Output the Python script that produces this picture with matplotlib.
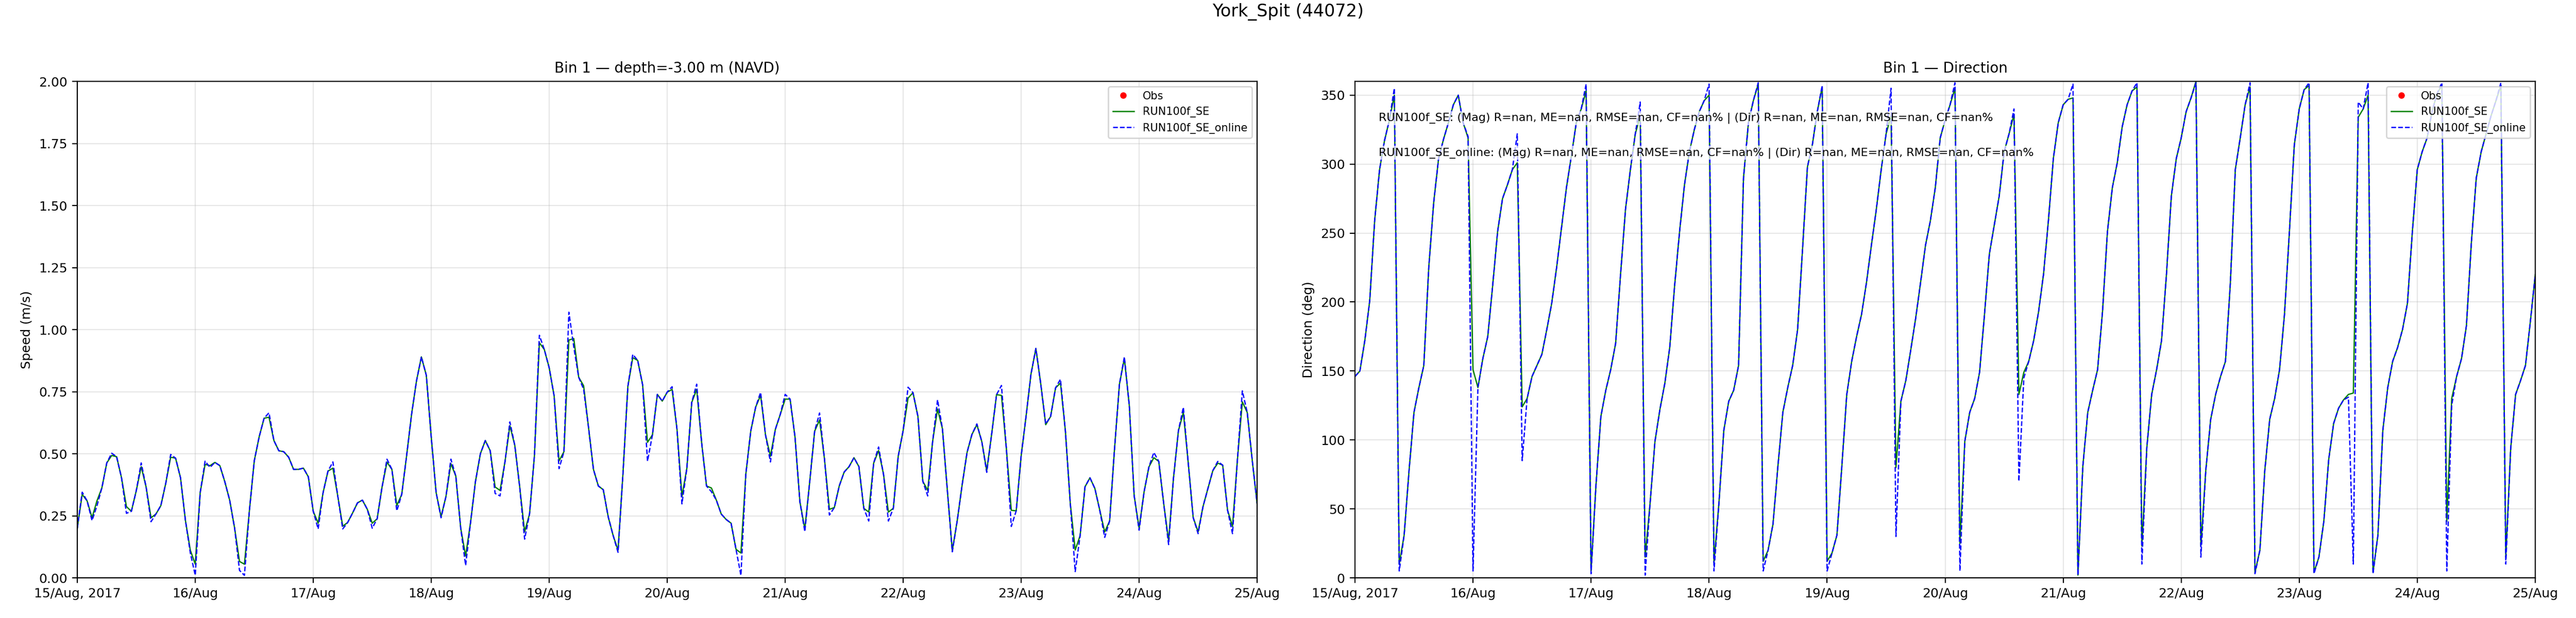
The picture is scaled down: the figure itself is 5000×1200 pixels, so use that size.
import numpy as np
import pandas as pd
import matplotlib
matplotlib.use('Agg')
import matplotlib.pyplot as plt
import matplotlib.dates as mdates

plt.rcParams['font.size'] = 9

# hourly time axis, 15/Aug 00:00 -> 25/Aug 00:00
times = pd.date_range('2017-08-15 00:00', '2017-08-25 00:00', freq='h')
day_ticks = pd.date_range('2017-08-15', '2017-08-25', freq='D')
day_labels = ['15/Aug, 2017', '16/Aug', '17/Aug', '18/Aug', '19/Aug', '20/Aug',
              '21/Aug', '22/Aug', '23/Aug', '24/Aug', '25/Aug']

# speed (m/s), RUN100f_SE
spd_se = [0.20, 0.336, 0.31, 0.242, 0.31, 0.362, 0.463, 0.493, 0.488, 0.403,
          0.287, 0.268, 0.351, 0.448, 0.366, 0.242, 0.257, 0.291, 0.381, 0.486,
          0.482, 0.403, 0.231, 0.111, 0.055, 0.343, 0.457, 0.452, 0.465, 0.452,
          0.388, 0.313, 0.201, 0.066, 0.055, 0.268, 0.471, 0.568, 0.643, 0.647,
          0.553, 0.512, 0.508, 0.486, 0.437, 0.437, 0.442, 0.407, 0.268, 0.22,
          0.343, 0.43, 0.442, 0.328, 0.208, 0.223, 0.261, 0.302, 0.313, 0.276,
          0.22, 0.238, 0.366, 0.466, 0.437, 0.291, 0.336, 0.493, 0.658, 0.793,
          0.89, 0.816, 0.568, 0.343, 0.246, 0.328, 0.46, 0.41, 0.20, 0.088,
          0.223, 0.388, 0.50, 0.553, 0.512, 0.366, 0.352, 0.467, 0.613, 0.534,
          0.366, 0.186, 0.257, 0.493, 0.947, 0.92, 0.846, 0.733, 0.471, 0.508,
          0.958, 0.964, 0.808, 0.774, 0.606, 0.437, 0.37, 0.355, 0.246, 0.171,
          0.111, 0.418, 0.771, 0.887, 0.876, 0.778, 0.546, 0.576, 0.739, 0.712,
          0.748, 0.759, 0.598, 0.328, 0.441, 0.707, 0.759, 0.546, 0.37, 0.362,
          0.313, 0.257, 0.235, 0.22, 0.115, 0.10, 0.418, 0.591, 0.688, 0.735,
          0.576, 0.49, 0.598, 0.658, 0.72, 0.72, 0.568, 0.306, 0.197, 0.388,
          0.591, 0.636, 0.478, 0.276, 0.283, 0.37, 0.426, 0.448, 0.484, 0.448,
          0.28, 0.265, 0.462, 0.513, 0.418, 0.265, 0.28, 0.49, 0.593, 0.724,
          0.746, 0.651, 0.389, 0.352, 0.55, 0.68, 0.60, 0.35, 0.11, 0.23,
          0.374, 0.505, 0.578, 0.617, 0.549, 0.432, 0.578, 0.738, 0.735, 0.52,
          0.272, 0.27, 0.49, 0.65, 0.82, 0.924, 0.78, 0.617, 0.65, 0.765,
          0.785, 0.593, 0.30, 0.112, 0.17, 0.367, 0.403, 0.36, 0.272, 0.185,
          0.229, 0.52, 0.78, 0.884, 0.695, 0.33, 0.20, 0.345, 0.447, 0.484,
          0.469, 0.30, 0.149, 0.403, 0.593, 0.666, 0.462, 0.243, 0.185, 0.287,
          0.36, 0.432, 0.462, 0.454, 0.272, 0.207, 0.476, 0.709, 0.666, 0.476,
          0.30]

# speed (m/s), RUN100f_SE_online
spd_online = [0.20, 0.345, 0.31, 0.231, 0.29, 0.362, 0.463, 0.502, 0.488, 0.403,
              0.26, 0.268, 0.351, 0.463, 0.366, 0.226, 0.257, 0.291, 0.381, 0.497,
              0.482, 0.403, 0.231, 0.10, 0.01, 0.343, 0.47, 0.445, 0.465, 0.452,
              0.388, 0.313, 0.201, 0.03, 0.01, 0.268, 0.471, 0.568, 0.643, 0.665,
              0.553, 0.512, 0.508, 0.486, 0.437, 0.437, 0.442, 0.407, 0.268, 0.197,
              0.343, 0.43, 0.467, 0.328, 0.197, 0.223, 0.261, 0.302, 0.313, 0.276,
              0.20, 0.238, 0.366, 0.478, 0.437, 0.27, 0.336, 0.493, 0.658, 0.793,
              0.89, 0.816, 0.568, 0.343, 0.242, 0.328, 0.478, 0.41, 0.20, 0.05,
              0.223, 0.388, 0.50, 0.553, 0.512, 0.34, 0.33, 0.467, 0.628, 0.534,
              0.366, 0.156, 0.257, 0.493, 0.977, 0.92, 0.846, 0.733, 0.44, 0.508,
              1.07, 0.93, 0.808, 0.76, 0.606, 0.437, 0.37, 0.355, 0.246, 0.171,
              0.103, 0.418, 0.771, 0.90, 0.876, 0.778, 0.47, 0.576, 0.739, 0.712,
              0.748, 0.77, 0.598, 0.298, 0.441, 0.707, 0.78, 0.546, 0.37, 0.347,
              0.313, 0.257, 0.235, 0.22, 0.115, 0.01, 0.418, 0.591, 0.688, 0.747,
              0.576, 0.467, 0.598, 0.658, 0.739, 0.72, 0.568, 0.306, 0.186, 0.388,
              0.591, 0.664, 0.478, 0.253, 0.283, 0.37, 0.426, 0.448, 0.484, 0.448,
              0.28, 0.229, 0.462, 0.527, 0.418, 0.229, 0.28, 0.49, 0.593, 0.768,
              0.746, 0.651, 0.389, 0.33, 0.55, 0.717, 0.60, 0.35, 0.105, 0.23,
              0.374, 0.505, 0.578, 0.62, 0.549, 0.425, 0.578, 0.738, 0.775, 0.52,
              0.207, 0.27, 0.49, 0.65, 0.82, 0.924, 0.78, 0.62, 0.65, 0.765,
              0.80, 0.593, 0.30, 0.025, 0.17, 0.367, 0.403, 0.36, 0.272, 0.163,
              0.229, 0.52, 0.78, 0.89, 0.695, 0.33, 0.192, 0.345, 0.447, 0.505,
              0.469, 0.30, 0.134, 0.403, 0.593, 0.687, 0.462, 0.243, 0.178, 0.287,
              0.36, 0.432, 0.469, 0.454, 0.272, 0.178, 0.476, 0.753, 0.666, 0.476,
              0.30]

# direction (deg), RUN100f_SE
dir_se = [146, 150, 172, 201, 259, 296, 317, 332, 350, 10,
          31, 78, 120, 138, 154, 225, 272, 304, 318, 330,
          343, 350, 330, 319, 151, 138, 159, 175, 212, 251,
          275, 285, 296, 301, 124, 130, 146, 154, 162, 180,
          199, 225, 254, 283, 306, 330, 340, 353, 5, 67,
          117, 136, 151, 170, 220, 267, 296, 322, 335, 15,
          54, 99, 122, 141, 167, 212, 251, 285, 309, 325,
          338, 346, 350, 11, 54, 107, 128, 136, 154, 290,
          330, 346, 358, 12, 20, 39, 81, 120, 138, 154,
          180, 238, 298, 314, 338, 356, 12, 18, 31, 81,
          133, 157, 175, 191, 214, 241, 267, 296, 322, 335,
          80, 128, 143, 165, 188, 214, 241, 259, 283, 319,
          332, 343, 355, 25, 99, 120, 130, 149, 191, 235,
          256, 277, 309, 322, 336, 133, 149, 157, 172, 193,
          220, 259, 304, 330, 343, 347, 348, 2, 81, 120,
          136, 151, 193, 251, 283, 301, 327, 343, 353, 356,
          23, 94, 133, 151, 172, 220, 277, 304, 319, 338,
          348, 360, 23, 78, 115, 133, 146, 157, 214, 296,
          319, 343, 356, 4, 20, 78, 115, 130, 151, 191,
          251, 314, 340, 354, 357, 4, 15, 41, 86, 112,
          123, 129, 133, 134, 334, 340, 350, 4, 31, 107,
          138, 157, 167, 180, 199, 251, 296, 309, 319, 338,
          351, 357, 41, 130, 146, 159, 183, 243, 290, 309,
          322, 335, 346, 357, 15, 94, 133, 143, 154, 186,
          220]

# direction (deg), RUN100f_SE_online
dir_online = [146, 150, 172, 201, 259, 296, 317, 332, 355, 5,
              31, 78, 120, 138, 154, 225, 272, 304, 318, 330,
              343, 350, 330, 320, 5, 138, 159, 175, 212, 251,
              275, 285, 296, 322, 85, 130, 146, 154, 162, 180,
              199, 225, 254, 283, 306, 330, 340, 358, 3, 67,
              117, 136, 151, 170, 220, 267, 296, 322, 345, 2,
              54, 99, 122, 141, 167, 212, 251, 285, 309, 325,
              338, 346, 358, 5, 54, 107, 128, 136, 154, 290,
              330, 346, 359, 5, 20, 39, 81, 120, 138, 154,
              180, 238, 298, 314, 338, 357, 5, 18, 31, 81,
              133, 157, 175, 191, 214, 241, 267, 296, 322, 355,
              30, 128, 143, 165, 188, 214, 241, 259, 283, 319,
              332, 343, 359, 5, 99, 120, 130, 149, 191, 235,
              256, 277, 309, 322, 340, 70, 145, 157, 172, 193,
              220, 259, 304, 330, 343, 347, 358, 2, 81, 120,
              136, 151, 193, 251, 283, 301, 327, 343, 353, 359,
              10, 94, 133, 151, 172, 220, 277, 304, 319, 338,
              348, 359, 15, 78, 115, 133, 146, 157, 214, 296,
              319, 343, 359, 3, 20, 78, 115, 130, 151, 191,
              251, 314, 340, 354, 359, 3, 15, 41, 86, 112,
              123, 129, 131, 10, 345, 340, 359, 3, 31, 107,
              138, 157, 167, 180, 199, 251, 296, 309, 319, 338,
              351, 359, 5, 125, 146, 159, 183, 243, 290, 309,
              322, 335, 346, 359, 10, 94, 133, 143, 154, 186,
              220]

stats_se = 'RUN100f_SE: (Mag) R=nan, ME=nan, RMSE=nan, CF=nan% | (Dir) R=nan, ME=nan, RMSE=nan, CF=nan%'
stats_online = 'RUN100f_SE_online: (Mag) R=nan, ME=nan, RMSE=nan, CF=nan% | (Dir) R=nan, ME=nan, RMSE=nan, CF=nan%'

fig = plt.figure(figsize=(25, 6), dpi=200)
ax1 = fig.add_axes([0.030, 0.065, 0.458, 0.8033])
ax2 = fig.add_axes([0.526, 0.065, 0.4582, 0.8033])

for ax, se, online in [(ax1, spd_se, spd_online), (ax2, dir_se, dir_online)]:
    ax.plot([], [], 'o', color='red', markersize=3.5, label='Obs')
    ax.plot(times, se, color='green', lw=0.9, label='RUN100f_SE')
    ax.plot(times, online, color='blue', lw=0.9, ls='--', label='RUN100f_SE_online')
    ax.set_xlim(day_ticks[0], day_ticks[-1])
    ax.set_xticks(day_ticks)
    ax.set_xticklabels(day_labels)
    ax.grid(True, alpha=0.3)
    ax.legend(loc='upper right', fontsize=7.5)

ax1.set_ylim(0, 2)
ax1.set_yticks(np.arange(0, 2.01, 0.25))
ax1.yaxis.set_major_formatter(plt.FormatStrFormatter('%.2f'))
ax1.set_ylabel('Speed (m/s)')
ax1.set_title('Bin 1 \u2014 depth=-3.00 m (NAVD)', fontsize=10)

ax2.set_ylim(0, 360)
ax2.set_yticks(np.arange(0, 351, 50))
ax2.set_ylabel('Direction (deg)')
ax2.set_title('Bin 1 \u2014 Direction', fontsize=10)

# stats lines
box = dict(facecolor='white', alpha=0.7, edgecolor='none', pad=1)
ax2.text(0.02, 0.926, stats_se, transform=ax2.transAxes, fontsize=8, va='center', bbox=box)
ax2.text(0.02, 0.856, stats_online, transform=ax2.transAxes, fontsize=8, va='center', bbox=box)

fig.suptitle('York_Spit (44072)', fontsize=12, y=0.995)

fig.savefig('out.png', dpi=200)
